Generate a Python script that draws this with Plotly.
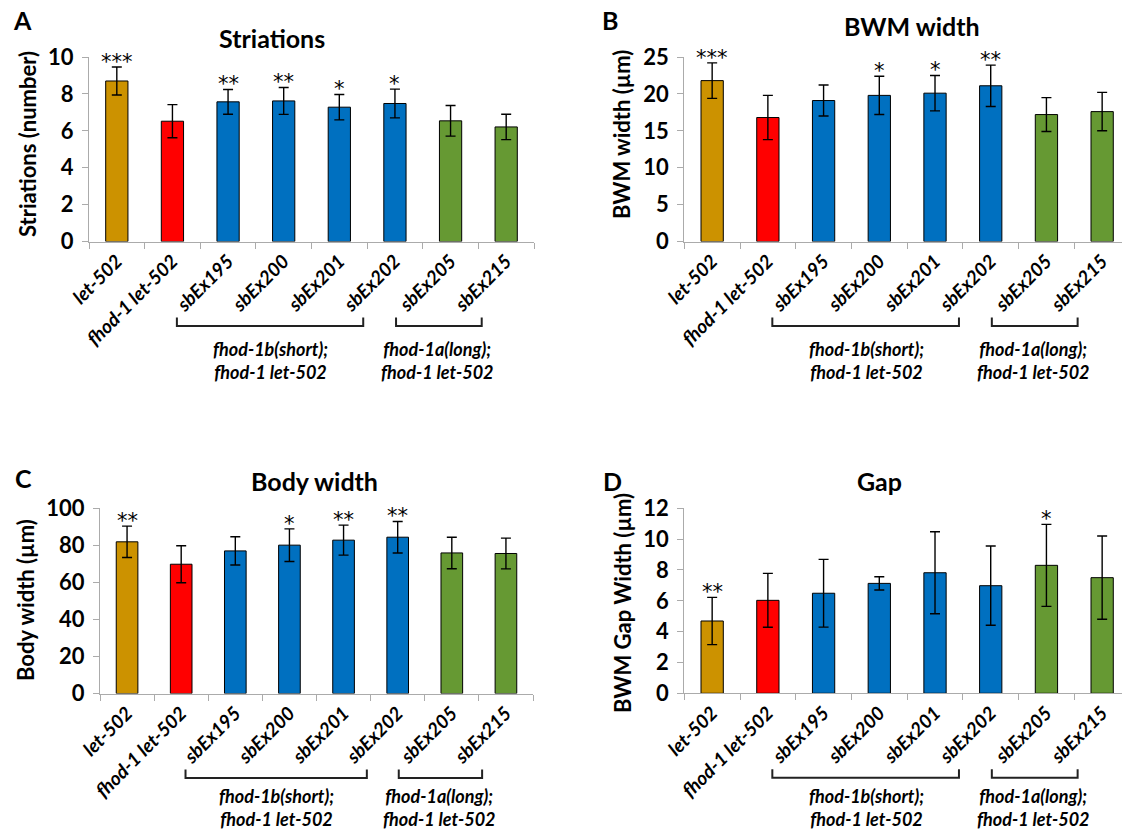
import plotly.graph_objects as go

# ---------------- data ----------------
categories = ["let-502", "fhod-1 let-502", "sbEx195", "sbEx200",
              "sbEx201", "sbEx202", "sbEx205", "sbEx215"]

striations_mean = [8.70, 6.52, 7.57, 7.62, 7.28, 7.48, 6.54, 6.21]
striations_sd = [0.76, 0.90, 0.67, 0.73, 0.69, 0.78, 0.83, 0.69]
striations_sig = ["***", "", "**", "**", "*", "*", "", ""]

bwm_mean = [21.8, 16.8, 19.1, 19.8, 20.1, 21.1, 17.2, 17.6]
bwm_sd = [2.4, 3.0, 2.1, 2.6, 2.4, 2.8, 2.3, 2.6]
bwm_sig = ["***", "", "", "*", "*", "**", "", ""]

body_mean = [81.9, 69.8, 77.0, 80.1, 82.8, 84.4, 75.9, 75.6]
body_sd = [8.5, 10.0, 7.6, 8.8, 8.1, 8.5, 8.5, 8.3]
body_sig = ["**", "", "", "*", "**", "**", "", ""]

gap_mean = [4.69, 6.03, 6.49, 7.13, 7.82, 6.98, 8.30, 7.50]
gap_sd = [1.53, 1.75, 2.20, 0.43, 2.66, 2.57, 2.66, 2.70]
gap_sig = ["**", "", "", "", "", "", "*", ""]

group_labels = ["fhod-1b(short);<br>fhod-1 let-502",
                "fhod-1a(long);<br>fhod-1 let-502"]

# ---------------- style ----------------
W, H = 1122, 832
bar_colors = ["#CC9200", "#FF0000", "#0070C0", "#0070C0",
              "#0070C0", "#0070C0", "#669933", "#669933"]
AX = "#ABABAB"
FONT = "Lato"


def px(x):
    return x / W


def py(y):
    return 1 - y / H


panels = [
    dict(name="A", title="Striations", ytitle="Striations (number)",
         mean=striations_mean, sd=striations_sd, sig=striations_sig,
         xdom=[px(89), px(534)], ydom=[py(241.5), py(57)], xr=[-0.5, 7.5],
         yr=[0, 10], dt=2, axis_y=241.5, glab=119,
         letter=(22, 20), tpos=(272, 38), ytpos=(27, 144)),
    dict(name="B", title="BWM width", ytitle="BWM width (µm)",
         mean=bwm_mean, sd=bwm_sd, sig=bwm_sig,
         xdom=[px(684.3), 1.0], ydom=[py(241.5), py(57)],
         xr=[-0.5, 7.5 - (1130 - 1122) / 55.7],
         yr=[0, 25], dt=5, axis_y=241.5, glab=119,
         letter=(610, 20), tpos=(912, 26), ytpos=(621, 135)),
    dict(name="C", title="Body width", ytitle="Body width (µm)",
         mean=body_mean, sd=body_sd, sig=body_sig,
         xdom=[px(100), px(533)], ydom=[py(693.5), py(508.3)], xr=[-0.5, 7.5],
         yr=[0, 100], dt=20, axis_y=693.5, glab=114,
         letter=(23, 478), tpos=(314, 481), ytpos=(25, 600)),
    dict(name="D", title="Gap", ytitle="BWM Gap Width (µm)",
         mean=gap_mean, sd=gap_sd, sig=gap_sig,
         xdom=[px(684.3), 1.0], ydom=[py(693.3), py(508.3)],
         xr=[-0.5, 7.5 - (1130 - 1122) / 55.7],
         yr=[0, 12], dt=2, axis_y=693.3, glab=114,
         letter=(612, 481), tpos=(879, 481), ytpos=(622, 603)),
]

fig = go.Figure()
annotations = []
shapes = []

for i, p in enumerate(panels, start=1):
    xa = "x" if i == 1 else f"x{i}"
    ya = "y" if i == 1 else f"y{i}"
    fig.add_trace(go.Bar(
        x=categories, y=p["mean"], xaxis=xa, yaxis=ya,
        marker=dict(color=bar_colors, line=dict(color="#000000", width=1)),
        error_y=dict(type="data", array=p["sd"], visible=True,
                     color="#000000", thickness=1.4, width=5),
        showlegend=False, hoverinfo="skip",
    ))
    lay_x = "xaxis" if i == 1 else f"xaxis{i}"
    lay_y = "yaxis" if i == 1 else f"yaxis{i}"
    fig.update_layout(**{
        lay_x: dict(domain=p["xdom"], anchor=ya, type="category",
                    range=p["xr"], showgrid=False, showline=True,
                    linecolor=AX, linewidth=1.3, ticks="outside",
                    tickson="boundaries", ticklen=6, tickcolor=AX,
                    tickwidth=1.3, tickangle=-45, zeroline=False,
                    automargin=False,
                    tickfont=dict(family=FONT, size=19, color="#000000",
                                  weight="bold", style="italic")),
        lay_y: dict(domain=p["ydom"], anchor=xa, range=p["yr"],
                    dtick=p["dt"], tick0=0, showgrid=False, showline=True,
                    linecolor=AX, linewidth=1.3, ticks="outside",
                    ticklen=6, tickcolor=AX, tickwidth=1.3, zeroline=False,
                    ticklabelstandoff=4, automargin=False,
                    tickfont=dict(family=FONT, size=22, color="#000000",
                                  weight="bold")),
    })

    # significance stars
    for c, m, s, star in zip(categories, p["mean"], p["sd"], p["sig"]):
        if star:
            annotations.append(dict(
                x=c, y=m + s, xref=xa, yref=ya, text=star, showarrow=False,
                yanchor="bottom", yshift=-9,
                font=dict(family="DejaVu Sans", size=21, color="#000000")))

    # panel letter, title, y-axis title
    annotations.append(dict(x=px(p["letter"][0]), y=py(p["letter"][1]),
                            xref="paper", yref="paper", text=p["name"],
                            showarrow=False, xanchor="center", yanchor="middle",
                            font=dict(family=FONT, size=25, color="#000000",
                                      weight="bold")))
    annotations.append(dict(x=px(p["tpos"][0]), y=py(p["tpos"][1]),
                            xref="paper", yref="paper", text=p["title"],
                            showarrow=False, xanchor="center", yanchor="middle",
                            font=dict(family=FONT, size=25, color="#000000",
                                      weight="bold")))
    annotations.append(dict(x=px(p["ytpos"][0]), y=py(p["ytpos"][1]),
                            xref="paper", yref="paper", text=p["ytitle"],
                            showarrow=False, textangle=-90,
                            xanchor="center", yanchor="middle",
                            font=dict(family=FONT, size=22, color="#000000",
                                      weight="bold")))

    # group brackets and labels
    ay = p["axis_y"]
    for (x0, x1), xc, label in zip([(1.08, 4.43), (5.02, 6.56)],
                                   [2.77, 5.77], group_labels):
        shapes.append(dict(type="path", xref=xa, yref="paper",
                           path=f"M {x0},{py(ay + 76)} L {x0},{py(ay + 84.5)} "
                                f"L {x1},{py(ay + 84.5)} L {x1},{py(ay + 76)}",
                           line=dict(color="#222222", width=2)))
        annotations.append(dict(x=xc, y=py(ay + p["glab"]), xref=xa,
                                yref="paper", text=label, showarrow=False,
                                xanchor="center", yanchor="middle",
                                font=dict(family=FONT, size=18,
                                          color="#000000", weight="bold",
                                          style="italic")))

fig.update_layout(
    width=W, height=H,
    margin=dict(l=0, r=0, t=0, b=0, pad=0, autoexpand=False),
    paper_bgcolor="white", plot_bgcolor="white",
    bargap=0.6, annotations=annotations, shapes=shapes,
    font=dict(family=FONT),
)

fig.write_html(
    "out.html",
    config={"displayModeBar": False},
    post_script="document.body.style.margin='0';"
                "document.body.style.overflow='hidden';",
)
